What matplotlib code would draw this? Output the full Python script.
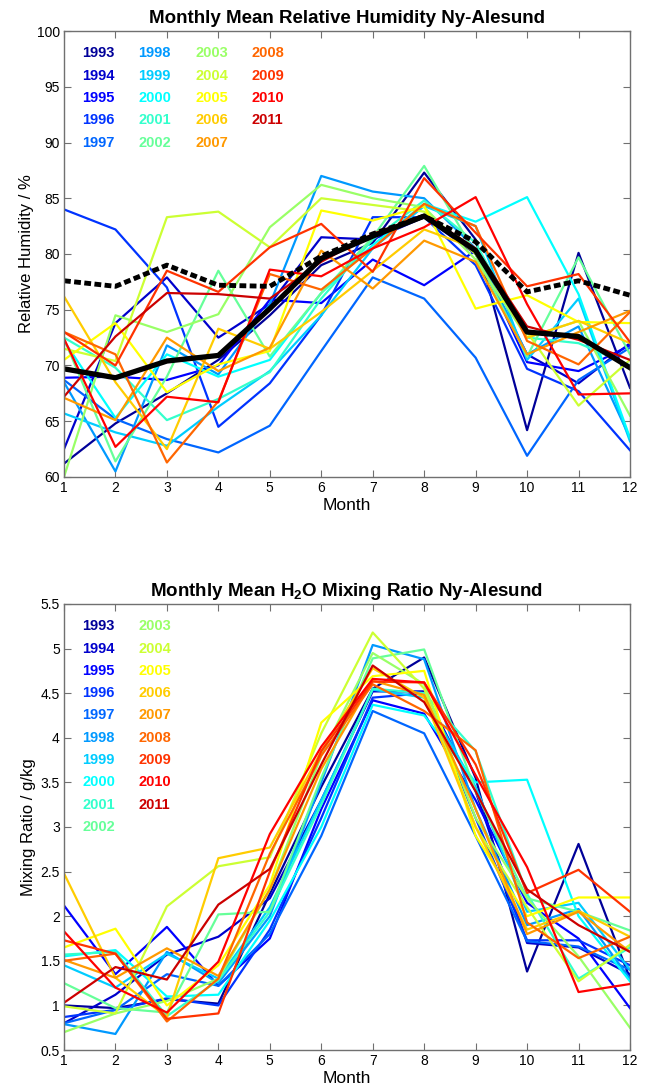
import numpy as np
import matplotlib
matplotlib.use("Agg")
import matplotlib.pyplot as plt

plt.rcParams.update({
    "font.family": ["Liberation Sans", "DejaVu Sans"],
    "mathtext.fontset": "custom",
    "mathtext.bf": "Liberation Sans:bold",
    "mathtext.rm": "Liberation Sans:bold",
    "mathtext.default": "bf",
})

months = np.arange(1, 13)
years = list(range(1993, 2012))

# jet(19) as used for the year colours
year_colors = [
    (0, 0, .6), (0, 0, .8), (0, 0, 1), (0, .2, 1), (0, .4, 1), (0, .6, 1),
    (0, .8, 1), (0, 1, 1), (.2, 1, .8), (.4, 1, .6), (.6, 1, .4), (.8, 1, .2),
    (1, 1, 0), (1, .8, 0), (1, .6, 0), (1, .4, 0), (1, .2, 0), (1, 0, 0), (.8, 0, 0),
]

# monthly mean relative humidity (%) per year
rh_1993 = [61.2, 64.8, 67.5, 70.5, 74.5, 79.0, 81.0, 87.3, 81.3, 64.2, 80.1, 68.0]
rh_1994 = [62.5, 73.8, 77.9, 72.5, 75.5, 81.5, 81.3, 83.3, 80.0, 71.0, 68.4, 72.0]
rh_1995 = [68.9, 69.0, 68.7, 70.0, 75.9, 75.6, 79.5, 77.2, 80.3, 70.3, 69.5, 71.8]
rh_1996 = [84.0, 82.2, 77.0, 64.5, 68.4, 74.5, 83.3, 83.3, 79.0, 69.7, 67.7, 62.4]
rh_1997 = [68.7, 65.2, 63.4, 62.2, 64.6, 71.3, 77.9, 76.0, 70.7, 61.9, 68.7, 71.6]
rh_1998 = [68.5, 60.5, 71.8, 69.2, 75.5, 87.0, 85.6, 85.0, 80.5, 71.0, 73.5, 63.5]
rh_1999 = [65.7, 64.0, 62.8, 66.3, 69.5, 74.5, 80.5, 84.3, 82.5, 70.5, 76.0, 63.2]
rh_2000 = [72.2, 65.3, 71.0, 69.0, 70.5, 76.5, 80.8, 84.5, 82.9, 85.1, 76.4, 63.5]
rh_2001 = [72.5, 69.8, 65.1, 67.0, 69.4, 76.0, 81.3, 84.8, 81.0, 72.5, 72.0, 70.0]
rh_2002 = [72.4, 61.4, 69.0, 78.5, 70.8, 76.5, 81.5, 87.9, 80.0, 70.8, 79.7, 71.0]
rh_2003 = [60.0, 74.5, 73.0, 74.6, 82.4, 86.2, 85.0, 84.2, 79.5, 72.5, 74.0, 65.5]
rh_2004 = [71.5, 70.4, 83.3, 83.8, 80.6, 85.0, 84.4, 83.8, 80.0, 73.0, 66.4, 70.5]
rh_2005 = [70.5, 73.8, 67.6, 70.1, 71.3, 83.9, 83.0, 84.3, 75.1, 76.3, 73.9, 73.8]
rh_2006 = [76.2, 68.5, 62.5, 73.3, 71.5, 74.8, 78.5, 82.2, 80.5, 72.5, 74.0, 72.0]
rh_2007 = [67.1, 65.1, 72.5, 69.5, 71.6, 80.3, 76.9, 81.2, 79.3, 71.0, 73.0, 74.9]
rh_2008 = [73.0, 71.0, 61.3, 66.8, 78.2, 76.8, 80.5, 84.5, 82.5, 72.2, 70.1, 74.8]
rh_2009 = [73.0, 70.0, 78.5, 76.6, 80.6, 82.7, 78.4, 86.8, 81.9, 77.1, 78.2, 72.1]
rh_2010 = [72.4, 62.7, 67.2, 66.7, 78.6, 78.0, 80.5, 82.4, 85.1, 75.5, 67.4, 67.5]
rh_2011 = [67.2, 72.6, 76.5, 76.4, 76.0, 79.3, 81.8, 83.5, 80.5, 73.5, 72.3, 70.5]
rh_mean = [69.7, 68.9, 70.4, 70.9, 75.1, 79.6, 81.6, 83.4, 80.3, 73.0, 72.6, 69.8]
rh_dashed = [77.6, 77.1, 79.0, 77.2, 77.1, 79.8, 81.8, 83.4, 81.1, 76.6, 77.6, 76.3]

# monthly mean H2O mixing ratio (g/kg) per year
mr_1993 = [1.00, 0.97, 1.07, 1.02, 2.25, 3.45, 4.55, 4.90, 3.55, 1.38, 2.81, 1.30]
mr_1994 = [0.80, 1.12, 1.57, 1.77, 2.20, 3.30, 4.52, 4.52, 3.40, 1.70, 1.65, 1.35]
mr_1995 = [2.12, 1.35, 1.88, 1.22, 1.75, 3.20, 4.42, 4.27, 3.30, 2.15, 1.75, 0.97]
mr_1996 = [0.87, 0.95, 1.08, 1.00, 1.85, 3.10, 4.45, 4.50, 3.10, 1.73, 1.73, 1.45]
mr_1997 = [0.80, 0.95, 1.35, 1.22, 1.80, 2.90, 4.30, 4.05, 2.90, 1.72, 1.66, 1.40]
mr_1998 = [0.79, 0.68, 1.60, 1.25, 2.00, 3.50, 5.04, 4.88, 3.20, 1.90, 2.08, 1.30]
mr_1999 = [1.45, 1.20, 1.58, 1.30, 2.10, 3.30, 4.54, 4.45, 3.45, 2.05, 2.15, 1.40]
mr_2000 = [1.55, 1.62, 1.10, 1.12, 1.95, 3.00, 4.37, 4.25, 3.50, 3.53, 2.00, 1.27]
mr_2001 = [1.57, 1.60, 0.88, 1.28, 2.05, 3.25, 4.55, 4.50, 3.85, 2.25, 1.30, 1.65]
mr_2002 = [1.25, 0.97, 0.92, 2.02, 2.05, 3.55, 4.89, 4.99, 3.40, 2.20, 2.05, 1.84]
mr_2003 = [0.70, 0.91, 1.05, 1.30, 2.30, 3.80, 4.95, 4.60, 3.10, 2.20, 1.55, 0.75]
mr_2004 = [0.99, 0.91, 2.11, 2.56, 2.66, 4.05, 5.18, 4.55, 3.00, 2.10, 1.27, 1.68]
mr_2005 = [1.65, 1.86, 1.00, 1.45, 2.35, 4.17, 4.69, 4.75, 2.90, 2.00, 2.21, 2.21]
mr_2006 = [2.48, 1.31, 0.87, 2.65, 2.77, 3.85, 4.78, 4.45, 3.00, 1.85, 2.06, 1.77]
mr_2007 = [1.51, 1.31, 1.64, 1.33, 2.30, 3.65, 4.64, 4.48, 3.20, 1.80, 2.05, 1.60]
mr_2008 = [1.50, 1.58, 0.82, 1.30, 2.70, 3.80, 4.60, 4.30, 3.86, 1.93, 1.53, 1.77]
mr_2009 = [1.73, 1.58, 0.85, 0.91, 2.50, 3.85, 4.63, 4.62, 3.70, 2.26, 2.52, 2.05]
mr_2010 = [1.83, 1.20, 0.92, 1.49, 2.92, 3.90, 4.66, 4.62, 3.58, 2.55, 1.15, 1.24]
mr_2011 = [1.03, 1.43, 1.29, 2.13, 2.53, 3.70, 4.81, 4.40, 3.40, 2.30, 1.90, 1.60]

rh_series = [rh_1993, rh_1994, rh_1995, rh_1996, rh_1997, rh_1998, rh_1999, rh_2000,
             rh_2001, rh_2002, rh_2003, rh_2004, rh_2005, rh_2006, rh_2007, rh_2008,
             rh_2009, rh_2010, rh_2011]
mr_series = [mr_1993, mr_1994, mr_1995, mr_1996, mr_1997, mr_1998, mr_1999, mr_2000,
             mr_2001, mr_2002, mr_2003, mr_2004, mr_2005, mr_2006, mr_2007, mr_2008,
             mr_2009, mr_2010, mr_2011]

rh_yticks = [60, 65, 70, 75, 80, 85, 90, 95, 100]
mr_yticks = [0.5, 1, 1.5, 2, 2.5, 3, 3.5, 4, 4.5, 5, 5.5]
mr_yticklabels = ["0.5", "1", "1.5", "2", "2.5", "3", "3.5", "4", "4.5", "5", "5.5"]

fig = plt.figure(figsize=(6.49, 10.88), dpi=100)
ax1 = fig.add_axes([0.0986, 0.5616, 0.8721, 0.4099])
ax2 = fig.add_axes([0.0986, 0.0349, 0.8721, 0.4100])

axis_gray = "#707070"


def style_axes(ax):
    ax.set_xlim(1, 12)
    ax.set_xticks(months)
    ax.tick_params(direction="in", length=5, width=0.8, color=axis_gray,
                   top=True, right=True, labelsize=10, pad=3)
    for sp in ax.spines.values():
        sp.set_color(axis_gray)
        sp.set_linewidth(1.0)


# --- top panel: relative humidity ---
for vals, c in zip(rh_series, year_colors):
    ax1.plot(months, vals, color=c, lw=1.6)
ax1.plot(months, rh_dashed, color="black", lw=3.5, ls=(0, (1.4, 0.7)))
ax1.plot(months, rh_mean, color="black", lw=3.8)
style_axes(ax1)
ax1.set_ylim(60, 100)
ax1.set_yticks(rh_yticks)
ax1.set_title("Monthly Mean Relative Humidity Ny-Alesund", fontsize=13.5,
              fontweight="bold", pad=6)
ax1.set_xlabel("Month", fontsize=12.5, labelpad=2)
ax1.set_ylabel("Relative Humidity / %", fontsize=12, labelpad=2)

# year labels, four columns
for i, (yr, c) in enumerate(zip(years, year_colors)):
    col, row = divmod(i, 5)
    ax1.text(1.35 + 1.1 * col, 98 - 2 * row, str(yr), color=c, fontsize=10.5,
             fontweight="bold", ha="left", va="center")

# --- bottom panel: mixing ratio ---
for vals, c in zip(mr_series, year_colors):
    ax2.plot(months, vals, color=c, lw=1.6)
style_axes(ax2)
ax2.set_ylim(0.5, 5.5)
ax2.set_yticks(mr_yticks)
ax2.set_yticklabels(mr_yticklabels)
ax2.set_title(r"Monthly Mean H$_2$O Mixing Ratio Ny-Alesund", fontsize=13.5,
              fontweight="bold", pad=6)
ax2.set_xlabel("Month", fontsize=12.5, labelpad=2)
ax2.set_ylabel("Mixing Ratio / g/kg", fontsize=12, labelpad=3)

# year labels, two columns
for i, (yr, c) in enumerate(zip(years, year_colors)):
    col, row = divmod(i, 10)
    ax2.text(1.35 + 1.1 * col, 5.25 - 0.25 * row, str(yr), color=c, fontsize=10.5,
             fontweight="bold", ha="left", va="center")

fig.savefig("out.png", dpi=100, facecolor="white")
